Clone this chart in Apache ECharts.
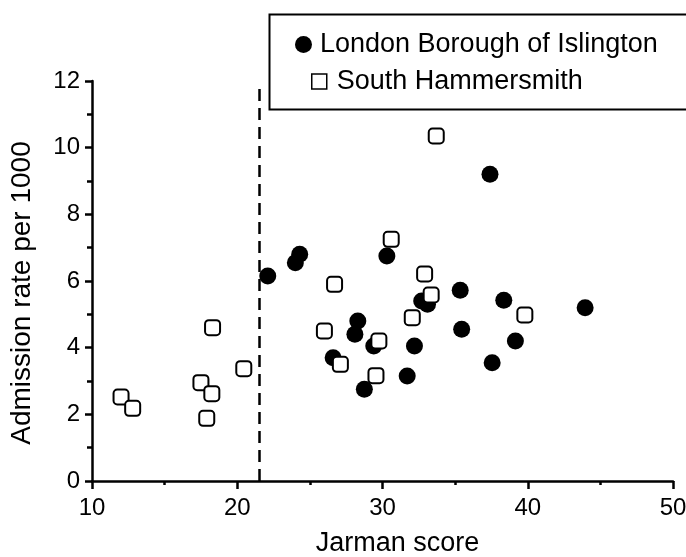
<!DOCTYPE html>
<html>
<head>
<meta charset="utf-8">
<script src="https://cdn.jsdelivr.net/npm/echarts@6/dist/echarts.min.js"></script>
<style>html,body{margin:0;padding:0;background:#fff}#c{width:686px;height:557px}</style>
</head>
<body>
<div id="c"></div>
<script>
var xTicks = [10, 20, 30, 40, 50];
var yTicks = [0, 2, 4, 6, 8, 10, 12];
var islington = [
  [22.1, 6.15], [24.0, 6.55], [24.3, 6.8], [30.3, 6.75], [28.3, 4.8],
  [28.1, 4.4], [29.4, 4.05], [26.6, 3.7], [28.75, 2.75], [31.7, 3.15],
  [32.2, 4.05], [32.7, 5.4], [33.1, 5.3], [35.35, 5.72], [38.35, 5.42],
  [35.45, 4.55], [39.15, 4.2], [37.55, 3.55], [43.95, 5.2], [37.4, 9.2]
];
var hammersmith = [
  [12.0, 2.52], [12.8, 2.18], [17.5, 2.95], [18.25, 2.62], [17.9, 1.88],
  [18.3, 4.6], [20.45, 3.37], [30.6, 7.25], [26.7, 5.9], [26.0, 4.5],
  [29.75, 4.2], [27.1, 3.5], [29.55, 3.16], [32.05, 4.9], [32.9, 6.21],
  [33.35, 5.58], [33.7, 10.35], [39.8, 4.98]
];
var cutoff = 21.5;
var seriesNames = ['London Borough of Islington', 'South Hammersmith'];
var xTitle = 'Jarman score';
var yTitle = 'Admission rate per 1000';

var font = 'Liberation Sans, Arial, Helvetica, sans-serif';
var chart = echarts.init(document.getElementById('c'));
chart.setOption({
  animation: false,
  backgroundColor: '#fff',
  grid: {left: 92, right: 13, top: 81, bottom: 76, containLabel: false, outerBoundsMode: 'none'},
  xAxis: {
    type: 'value', min: xTicks[0], max: xTicks[xTicks.length - 1], interval: 10,
    name: xTitle, nameLocation: 'middle', nameGap: 49,
    nameTextStyle: {fontFamily: font, fontSize: 27, color: '#000', padding: [0, 0, 0, 30]},
    axisLine: {lineStyle: {color: '#000', width: 2.5}},
    axisTick: {length: 8, lineStyle: {color: '#000', width: 2.5}},
    minorTick: {show: true, splitNumber: 2, length: 4, lineStyle: {color: '#000', width: 2.5}},
    axisLabel: {fontFamily: font, fontSize: 24, color: '#000', margin: 15},
    splitLine: {show: false}
  },
  yAxis: {
    type: 'value', min: yTicks[0], max: yTicks[yTicks.length - 1], interval: 2,
    name: yTitle, nameLocation: 'middle', nameGap: 56,
    nameTextStyle: {fontFamily: font, fontSize: 28, color: '#000', padding: [0, 24, 0, 0]},
    axisLine: {show: true, lineStyle: {color: '#000', width: 2.5}},
    axisTick: {show: true, length: 7, lineStyle: {color: '#000', width: 2.5}},
    minorTick: {show: true, splitNumber: 2, length: 5, lineStyle: {color: '#000', width: 2.5}},
    axisLabel: {fontFamily: font, fontSize: 24, color: '#000', margin: 12},
    splitLine: {show: false}
  },
  legend: [
    {
      orient: 'vertical', left: 290, top: 26,
      itemWidth: 17, itemHeight: 17,
      textStyle: {fontFamily: font, fontSize: 27, color: '#000', padding: [0, 0, 0, 3]},
      data: [{name: seriesNames[0], icon: 'circle'}]
    },
    {
      orient: 'vertical', left: 306, top: 63,
      itemWidth: 15, itemHeight: 15,
      textStyle: {fontFamily: font, fontSize: 27, color: '#000', padding: [0, 0, 0, 5]},
      data: [{name: seriesNames[1], icon: 'rect', itemStyle: {color: '#fff', borderColor: '#000', borderWidth: 1.5}}]
    }
  ],
  graphic: [{
    type: 'rect', left: 267, top: 12, z: 100,
    shape: {width: 440, height: 95},
    style: {fill: 'none', stroke: '#000', lineWidth: 2}
  }],
  series: [
    {
      name: seriesNames[0], type: 'scatter', data: islington,
      symbol: 'circle', symbolSize: 17,
      itemStyle: {color: '#000', opacity: 1}
    },
    {
      name: seriesNames[1], type: 'scatter', data: hammersmith,
      symbol: 'roundRect', symbolSize: 15,
      itemStyle: {color: '#fff', borderColor: '#000', borderWidth: 2, opacity: 1},
      markLine: {
        silent: true, symbol: 'none', label: {show: false},
        lineStyle: {color: '#000', width: 2.5, type: [12, 7]},
        data: [[{coord: [cutoff, 0]}, {coord: [cutoff, 11.85]}]]
      }
    }
  ]
});
</script>
</body>
</html>
